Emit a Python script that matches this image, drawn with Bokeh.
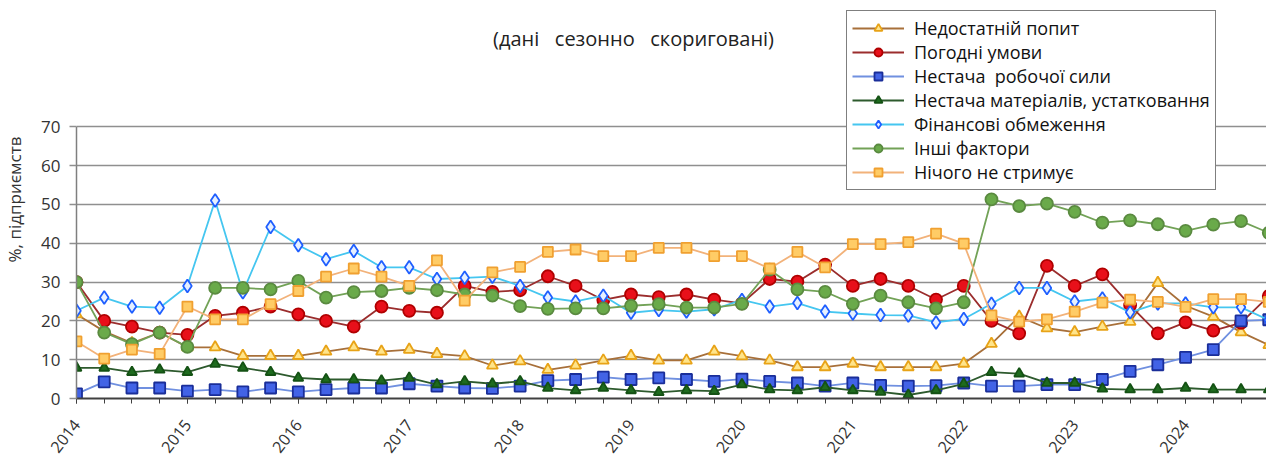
from bokeh.plotting import figure
from bokeh.models import Range1d, FixedTicker, Legend, LegendItem, Label
from bokeh.embed import file_html
from bokeh.resources import INLINE

years = ["2014", "2015", "2016", "2017", "2018", "2019", "2020", "2021", "2022", "2023", "2024"]
quarter_idx = list(range(44))  # 2014 Q1 ... 2024 Q4

demand = [21.7, 17.3, 14.3, 17.0, 13.2, 13.2, 11.0, 11.0, 11.0, 12.1, 13.2, 12.1,
          12.6, 11.5, 10.9, 8.5, 9.6, 7.4, 8.5, 9.8, 11.0, 9.8, 9.8, 12.1,
          10.9, 9.8, 8.1, 8.1, 9.0, 8.1, 8.1, 8.1, 9.0, 14.1, 21.1, 18.1,
          17.1, 18.5, 19.8, 29.8, 23.9, 21.1, 17.1, 13.8]
weather = [30.0, 20.0, 18.5, 17.0, 16.4, 21.3, 22.1, 23.7, 21.7, 20.0, 18.5, 23.7,
           22.6, 22.1, 29.0, 27.5, 27.9, 31.5, 29.0, 25.4, 26.8, 26.1, 26.8, 25.5,
           24.5, 30.8, 30.1, 34.5, 29.0, 30.8, 29.0, 25.5, 29.0, 20.0, 16.8, 34.2,
           29.0, 32.0, 24.0, 16.8, 19.6, 17.5, 19.5, 26.4]
labor = [1.2, 4.3, 2.7, 2.7, 1.9, 2.3, 1.7, 2.7, 1.7, 2.3, 2.7, 2.7,
         3.8, 3.2, 2.7, 2.6, 3.2, 4.6, 4.9, 5.5, 4.9, 5.3, 4.9, 4.4,
         5.0, 4.4, 4.0, 3.2, 4.0, 3.4, 3.2, 3.3, 4.0, 3.2, 3.2, 3.6,
         3.6, 4.9, 7.0, 8.7, 10.6, 12.6, 20.0, 20.3]
materials = [7.9, 7.9, 6.8, 7.4, 6.8, 8.9, 7.9, 6.8, 5.3, 4.9, 4.9, 4.6,
             5.3, 3.6, 4.4, 3.8, 4.4, 2.7, 2.1, 2.7, 2.1, 1.6, 2.1, 1.9,
             3.6, 2.3, 2.1, 2.9, 2.1, 1.7, 0.9, 2.1, 3.8, 6.8, 6.4, 4.0,
             4.0, 2.5, 2.3, 2.3, 2.7, 2.3, 2.3, 2.3]
financial = [22.6, 26.0, 23.7, 23.4, 29.0, 51.0, 27.4, 44.2, 39.5, 35.9, 38.0, 33.8,
             33.8, 30.8, 31.1, 31.4, 29.0, 26.0, 25.0, 26.5, 22.1, 22.8, 22.4, 23.0,
             25.4, 23.7, 24.6, 22.4, 21.9, 21.5, 21.4, 19.6, 20.5, 24.4, 28.5, 28.5,
             25.0, 25.8, 22.2, 24.5, 24.5, 23.5, 23.5, 20.2]
other = [30.0, 17.0, 14.0, 17.0, 13.3, 28.5, 28.5, 28.1, 30.3, 26.0, 27.4, 27.7,
         28.5, 27.9, 26.8, 26.5, 23.8, 23.1, 23.2, 23.2, 23.9, 24.3, 23.4, 23.4,
         24.4, 33.2, 28.1, 27.5, 24.4, 26.5, 24.8, 23.2, 24.8, 51.3, 49.6, 50.2,
         48.1, 45.3, 45.9, 44.9, 43.2, 44.8, 45.7, 42.7]
nothing = [14.7, 10.3, 12.6, 11.5, 23.7, 20.4, 20.4, 24.3, 27.7, 31.4, 33.5, 31.4,
           29.0, 35.6, 25.2, 32.5, 33.9, 37.8, 38.4, 36.7, 36.7, 38.8, 38.8, 36.7,
           36.7, 33.5, 37.8, 33.8, 39.8, 39.8, 40.3, 42.5, 39.9, 21.4, 19.8, 20.4,
           22.4, 24.7, 25.5, 24.9, 23.6, 25.6, 25.6, 24.9]

labels = ["Недостатній попит", "Погодні умови", "Нестача  робочої сили",
          "Нестача матеріалів, устатковання", "Фінансові обмеження",
          "Інші фактори", "Нічого не стримує"]
title_text = "(дані\u00a0\u00a0 сезонно\u00a0\u00a0 скориговані)"
y_label = "%, підприємств"
y_ticks = [0, 10, 20, 30, 40, 50, 60, 70]

FONT = "Open Sans"

# frame spans the full top of the canvas so the legend/title are not clipped;
# the value axis itself is limited to 0..70
FRAME_H = 400
Y_TOP = 70 * FRAME_H / 273.0

p = figure(width=1266, height=460, output_backend="svg", toolbar_location=None,
           x_range=Range1d(0, (1266 - 75) / 27.75), y_range=Range1d(0, Y_TOP),
           min_border_left=75, min_border_right=0, min_border_top=0,
           min_border_bottom=60, background_fill_color="white",
           border_fill_color="white")
p.outline_line_color = None
p.xgrid.visible = False
p.ygrid.ticker = FixedTicker(ticks=y_ticks)
p.ygrid.grid_line_color = "#8f8f8f"
p.ygrid.grid_line_width = 1.5

# y axis
p.yaxis.ticker = FixedTicker(ticks=y_ticks)
p.yaxis.bounds = (0, 70)
p.yaxis.major_tick_out = 7
p.yaxis.major_tick_in = 0
p.yaxis.minor_tick_line_color = None
p.yaxis.major_tick_line_color = "#8f8f8f"
p.yaxis.major_tick_line_width = 1.5
p.yaxis.axis_line_color = "#7f7f7f"
p.yaxis.axis_line_width = 1.5
p.yaxis.major_label_text_font = FONT
p.yaxis.major_label_text_font_size = "17px"
p.yaxis.major_label_text_color = "#333333"
p.yaxis.major_label_standoff = 9
p.yaxis.axis_label = y_label
p.yaxis.axis_label_text_font = FONT
p.yaxis.axis_label_text_font_size = "17px"
p.yaxis.axis_label_text_font_style = "normal"
p.yaxis.axis_label_text_color = "#333333"
p.yaxis.axis_label_standoff = 12

# x axis
p.xaxis.ticker = FixedTicker(ticks=[4 * k for k in range(len(years))],
                             minor_ticks=quarter_idx)
p.xaxis.major_label_overrides = {4 * k: y for k, y in enumerate(years)}
p.xaxis.major_label_orientation = 0.9
p.xaxis.major_tick_out = 5
p.xaxis.major_tick_in = 0
p.xaxis.minor_tick_out = 5
p.xaxis.minor_tick_in = 0
p.xaxis.major_tick_line_color = "#404040"
p.xaxis.minor_tick_line_color = "#404040"
p.xaxis.axis_line_color = "#404040"
p.xaxis.axis_line_width = 2
p.xaxis.major_label_text_font = FONT
p.xaxis.major_label_text_font_size = "16px"
p.xaxis.major_label_text_color = "#333333"
p.xaxis.major_label_standoff = 18

series = [
    (demand, "#A8703A", "triangle", "#FFE48A", "#E8A317", 11),
    (weather, "#9B2D2D", "circle", "#E8101A", "#B00000", 12),
    (labor, "#7090E0", "square", "#4263E6", "#1A2E99", 11),
    (materials, "#2D5A2D", "triangle", "#1E6B1E", "#145214", 10),
    (financial, "#45C6F0", "diamond", "#E6F0FF", "#1F5FFF", 13),
    (other, "#72A257", "circle", "#6AAA4A", "#5A8A40", 12),
    (nothing, "#F2B27A", "square", "#FFCC66", "#F0A030", 10),
]

items = []
for (vals, lc, mk, fc, mc, sz), lab in zip(series, labels):
    r1 = p.line(quarter_idx, vals, line_color=lc, line_width=1.8)
    r2 = p.scatter(quarter_idx, vals, marker=mk, size=sz, fill_color=fc,
                   line_color=mc, line_width=1.8)
    items.append(LegendItem(label=lab, renderers=[r1, r2]))

legend = Legend(items=items, location=(770, 208), orientation="vertical",
                label_text_font=FONT, label_text_font_size="18px",
                label_text_color="#111111", glyph_width=52, glyph_height=20,
                label_height=20, spacing=0, padding=5, margin=0,
                label_standoff=10, border_line_color="black",
                border_line_width=1.5, background_fill_color="white",
                background_fill_alpha=1.0)
p.add_layout(legend, "center")

title = Label(x=557, y=360, x_units="screen", y_units="screen", text=title_text,
              text_font=FONT, text_font_size="20px", text_color="#222222",
              text_align="center", text_baseline="middle")
p.add_layout(title)

open("out.html", "w").write(file_html(p, INLINE))
